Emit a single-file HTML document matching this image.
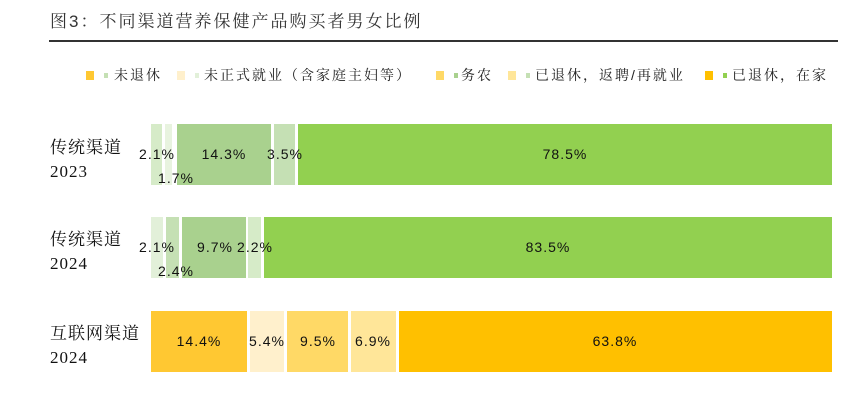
<!DOCTYPE html>
<html><head><meta charset="utf-8"><style>
body{margin:0;width:862px;height:408px;background:#fff;position:relative;overflow:hidden;font-family:"Liberation Sans","Noto Sans CJK SC",sans-serif;color:#222}
.a{position:absolute}
.t{position:absolute;font-size:14px;transform:translate(-50%,-50%);white-space:nowrap;letter-spacing:1px;color:#111}
.s{position:absolute}
.yl{position:absolute;left:50px;font-family:"Liberation Serif","Noto Serif CJK SC",serif;font-size:17px;line-height:24px;color:#111;letter-spacing:1px}
.lg{position:absolute;top:66px;font-size:14px;font-family:"Liberation Sans","Noto Serif CJK SC",serif;line-height:18px;letter-spacing:2px;white-space:nowrap}
.sq{position:absolute;width:8px;height:9px;top:71px}
.sg{position:absolute;width:4px;height:5px;top:73px}
</style></head><body>
<div class="a" style="left:50px;top:7px;font-size:17px;letter-spacing:2px;font-family:'Liberation Sans','Noto Serif CJK SC',serif;color:#333;white-space:nowrap">图3：不同渠道营养保健产品购买者男女比例</div>
<div class="a" style="left:49px;top:40px;width:789px;height:2px;background:#333"></div>

<div class="sq" style="left:86px;background:#FFC832"></div><div class="sg" style="left:104px;background:#C5E0B4"></div><div class="lg" style="left:114px">未退休</div>
<div class="sq" style="left:177px;background:#FFF0CC"></div><div class="sg" style="left:195px;background:#E2F0D9"></div><div class="lg" style="left:204px">未正式就业（含家庭主妇等）</div>
<div class="sq" style="left:436px;background:#FFD966"></div><div class="sg" style="left:454px;background:#A9D18E"></div><div class="lg" style="left:461px">务农</div>
<div class="sq" style="left:508px;background:#FFE699"></div><div class="sg" style="left:526px;background:#C5E0B4"></div><div class="lg" style="left:535px">已退休，返聘/再就业</div>
<div class="sq" style="left:705px;background:#FFC000"></div><div class="sg" style="left:723px;background:#92D050"></div><div class="lg" style="left:732px">已退休，在家</div>

<div class="yl" style="top:136px">传统渠道<br>2023</div>
<div class="yl" style="top:228px">传统渠道<br>2024</div>
<div class="yl" style="top:322px">互联网渠道<br>2024</div>

<div class="s" style="left:151px;top:124px;width:11px;height:61px;background:#D6EBC8"></div>
<div class="s" style="left:165px;top:124px;width:7px;height:61px;background:#E8F3DF"></div>
<div class="s" style="left:177px;top:124px;width:94px;height:61px;background:#A9D18E"></div>
<div class="s" style="left:274px;top:124px;width:21px;height:61px;background:#C5E0B4"></div>
<div class="s" style="left:298px;top:124px;width:534px;height:61px;background:#92D050"></div>
<div class="t" style="left:157px;top:154px">2.1%</div>
<div class="t" style="left:176px;top:178px">1.7%</div>
<div class="t" style="left:224px;top:154px">14.3%</div>
<div class="t" style="left:285px;top:154px">3.5%</div>
<div class="t" style="left:565px;top:154px">78.5%</div>

<div class="s" style="left:151px;top:217px;width:12px;height:61px;background:#E2F0D9"></div>
<div class="s" style="left:166px;top:217px;width:13px;height:61px;background:#C5E0B4"></div>
<div class="s" style="left:182px;top:217px;width:64px;height:61px;background:#A9D18E"></div>
<div class="s" style="left:248px;top:217px;width:13px;height:61px;background:#D6EBC8"></div>
<div class="s" style="left:264px;top:217px;width:568px;height:61px;background:#92D050"></div>
<div class="t" style="left:157px;top:247px">2.1%</div>
<div class="t" style="left:176px;top:271px">2.4%</div>
<div class="t" style="left:215px;top:247px">9.7%</div>
<div class="t" style="left:255px;top:247px">2.2%</div>
<div class="t" style="left:548px;top:247px">83.5%</div>

<div class="s" style="left:151px;top:311px;width:96px;height:61px;background:#FFC832"></div>
<div class="s" style="left:250px;top:311px;width:34px;height:61px;background:#FFF0CC"></div>
<div class="s" style="left:287px;top:311px;width:61px;height:61px;background:#FFD966"></div>
<div class="s" style="left:351px;top:311px;width:45px;height:61px;background:#FFE699"></div>
<div class="s" style="left:399px;top:311px;width:433px;height:61px;background:#FFC000"></div>
<div class="t" style="left:199px;top:341px">14.4%</div>
<div class="t" style="left:267px;top:341px">5.4%</div>
<div class="t" style="left:318px;top:341px">9.5%</div>
<div class="t" style="left:373px;top:341px">6.9%</div>
<div class="t" style="left:615px;top:341px">63.8%</div>
</body></html>
